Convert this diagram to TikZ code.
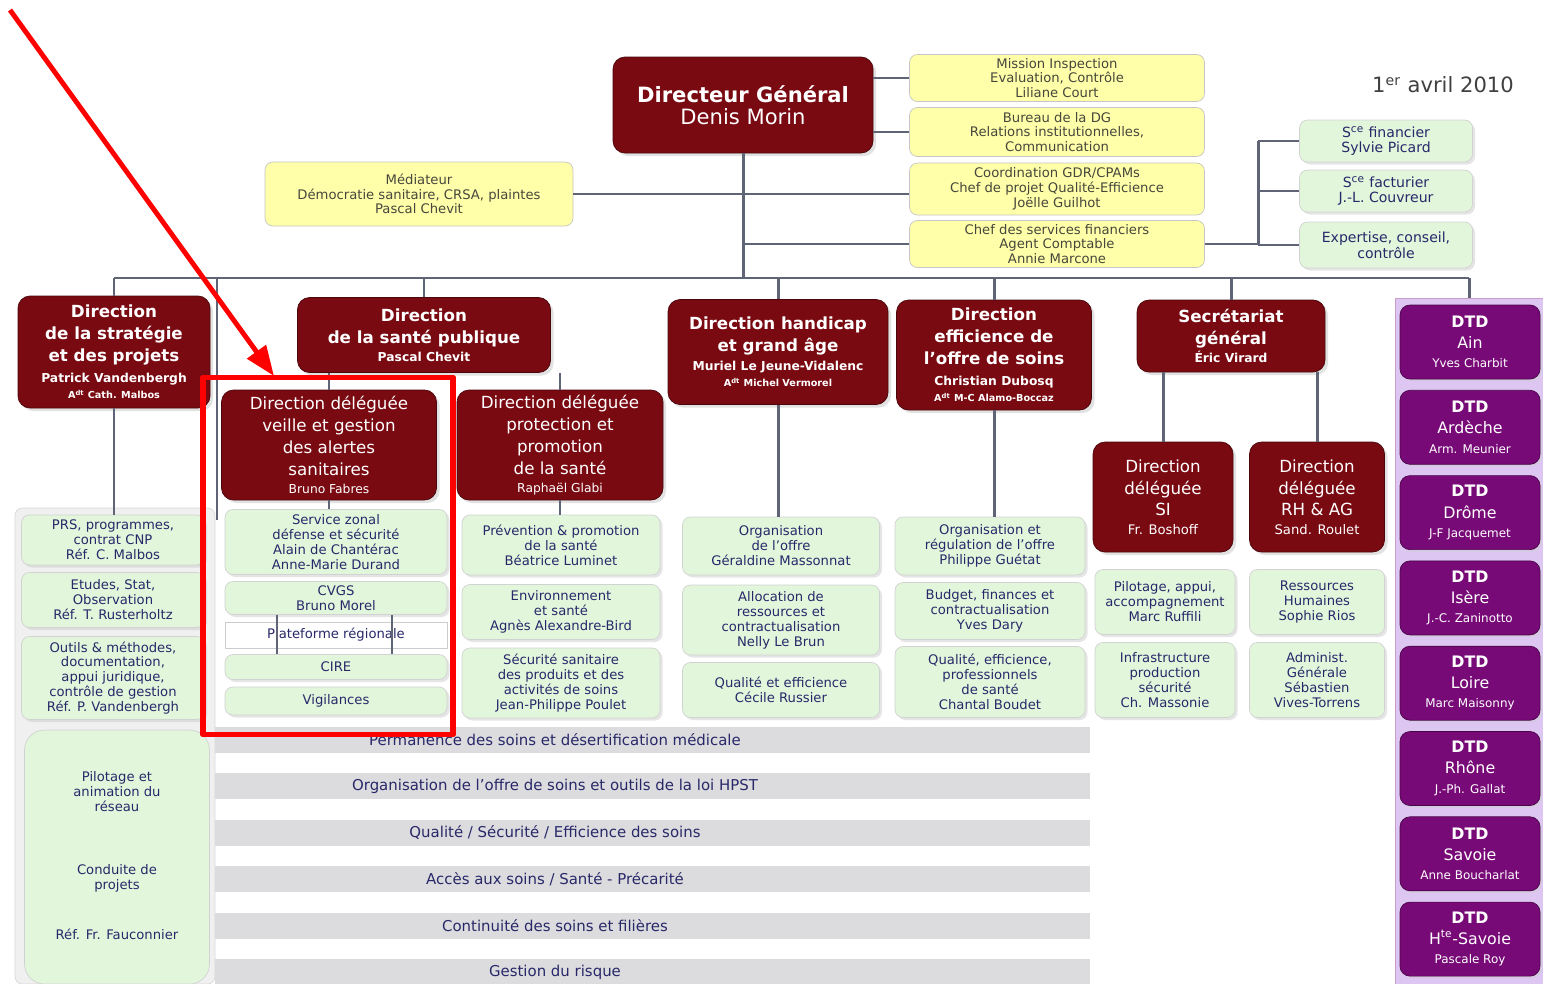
\documentclass[tikz,border=0pt]{standalone}
\usepackage{fontspec}
\setmainfont{DejaVu Sans}
\usetikzlibrary{arrows.meta,shadows}

\definecolor{dirred}{RGB}{122,10,18}
\definecolor{paleyellow}{RGB}{255,255,170}
\definecolor{yellowtext}{RGB}{70,70,60}
\definecolor{palegreen}{RGB}{226,246,220}
\definecolor{navytext}{RGB}{40,40,105}
\definecolor{linegray}{RGB}{95,100,118}
\definecolor{dtdpurple}{RGB}{120,10,120}
\definecolor{dtdback}{RGB}{222,198,242}
\definecolor{bargray}{RGB}{220,220,222}
\newcommand{\setfs}[2]{\fontsize{#1}{#2}\selectfont}

\begin{document}
\begin{tikzpicture}[
        x = 0.2mm, y = -0.2mm,
        line join=round,
        sz/.style 2 args = {minimum width=#1*0.2mm, minimum height=#2*0.2mm},
        conn/.style = {line width=1.7pt, draw=linegray},
        dirstyle/.style = {fill=dirred, draw=dirred!60!black, rounded corners=2.4mm, text=white, align=center, inner sep=1pt, font=\setfs{9.5}{12.5},
            drop shadow={shadow xshift=0.6mm, shadow yshift=-0.6mm, fill=gray!45}},
        boldhead/.style = {font=\setfs{9.5}{12.5}\bfseries},
        yellowstyle/.style = {fill=paleyellow, draw=gray!45, rounded corners=1.6mm, text=yellowtext, align=center, inner sep=1pt, font=\setfs{7.5}{8.4}},
        greenstyle/.style = {fill=palegreen, draw=gray!35, rounded corners=1.6mm, text=navytext, align=center, inner sep=1pt, font=\setfs{7.5}{8.5},
            drop shadow={shadow xshift=0.5mm, shadow yshift=-0.5mm, fill=gray!40}},
        platstyle/.style = {fill=white, draw=gray!40, text=navytext, font=\setfs{7.5}{8.5}},
        dtdstyle/.style = {fill=dtdpurple, draw=dtdpurple!60!black, rounded corners=2mm, text=white, align=center, inner sep=1pt,
            drop shadow={shadow xshift=0.4mm, shadow yshift=-0.4mm, fill=gray!40}},
        bartext/.style = {text=navytext, font=\setfs{8.5}{10}},
        sidetext/.style = {text=navytext, align=center, font=\setfs{7.5}{8.5}}
    ]

    \useasboundingbox[fill=white] (0,0) rectangle (1543,984);

    % backgrounds
    \node[fill=gray!12, draw=gray!30, rounded corners=1.5mm, sz={200}{476}] (panel) at (115,746) {};
    \node[fill=dtdback, draw=dtdpurple!40, sz={148}{686}] (dtdpanel) at (1469,641) {};
    \foreach \txt [count=\i from 0] in {Permanence des soins et désertification médicale,
        Organisation de l'offre de soins et outils de la loi HPST,
        Qualité / Sécurité / Efficience des soins,
        Accès aux soins / Santé - Précarité,
        Continuité des soins et filières,
        Gestion du risque}
    {
        \fill[bargray] (215,727+\i*46.4) rectangle (1090,753+\i*46.4);
        \node[bartext] (bar\i) at (555,740+\i*46.4) {\txt};
    }

    % top
    \node[dirstyle, sz={260}{96}] (dg) at (743,105) {{\bfseries\setfs{12}{16}Directeur Général}\\\setfs{12}{16}Denis Morin};
    \node[yellowstyle, sz={295}{47}] (y1) at (1057,78) {Mission Inspection\\Evaluation, Contrôle\\Liliane Court};
    \node[yellowstyle, sz={295}{49}] (y2) at (1057,132) {Bureau de la DG\\Relations institutionnelles,\\Communication};
    \node[yellowstyle, sz={295}{52}] (y3) at (1057,189) {Coordination GDR/CPAMs\\Chef de projet Qualité-Efficience\\Joëlle Guilhot};
    \node[yellowstyle, sz={295}{47}] (y4) at (1057,244) {Chef des services financiers\\Agent Comptable\\Annie Marcone};
    \node[yellowstyle, sz={308}{64}] (med) at (419,194) {Médiateur\\Démocratie sanitaire, CRSA, plaintes\\Pascal Chevit};
    \node[greenstyle, font=\setfs{8}{9}, sz={173}{42}] (gfin) at (1386,141) {S\textsuperscript{ce} financier\\Sylvie Picard};
    \node[greenstyle, font=\setfs{8}{9}, sz={173}{42}] (gfact) at (1386,191) {S\textsuperscript{ce} facturier\\J.-L. Couvreur};
    \node[greenstyle, font=\setfs{8}{9}, sz={173}{46}] (gexp) at (1386,245) {Expertise, conseil,\\contrôle};
    \node[text=black!75, font=\setfs{12}{14}] (date) at (1443,85) {1\textsuperscript{er} avril 2010};

    % directions
    \node[dirstyle, boldhead, sz={192}{112}] (strat) at (114,352) {Direction\\de la stratégie\\et des projets\\[-1pt]\setfs{7}{8}Patrick Vandenbergh\\[-3pt]\setfs{5.5}{6.5}A\textsuperscript{dt} Cath. Malbos};
    \node[dirstyle, boldhead, sz={253}{75}] (sp) at (424,335) {Direction\\de la santé publique\\[-2pt]\setfs{7}{8}Pascal Chevit};
    \node[dirstyle, boldhead, sz={220}{105}] (hand) at (778,352) {Direction handicap\\et grand âge\\[-2pt]\setfs{7}{8}Muriel Le Jeune-Vidalenc\\[-3pt]\setfs{5.5}{6.5}A\textsuperscript{dt} Michel Vermorel};
    \node[dirstyle, boldhead, sz={195}{110}] (eff) at (994,355) {Direction\\efficience de\\l'offre de soins\\[-1pt]\setfs{7}{8}Christian Dubosq\\[-3pt]\setfs{5.5}{6.5}A\textsuperscript{dt} M-C Alamo-Boccaz};
    \node[dirstyle, boldhead, sz={188}{72}] (sg) at (1231,336) {Secrétariat\\général\\[-2pt]\setfs{7}{8}Éric Virard};
    \node[dirstyle, sz={215}{110}] (ddv) at (329,445) {Direction déléguée\\veille et gestion\\des alertes\\sanitaires\\[-2pt]\setfs{7}{8}Bruno Fabres};
    \node[dirstyle, sz={206}{110}] (ddp) at (560,445) {Direction déléguée\\protection et\\promotion\\de la santé\\[-2pt]\setfs{7}{8}Raphaël Glabi};
    \node[dirstyle, sz={140}{110}] (ddsi) at (1163,497) {Direction\\déléguée\\SI\\[-2pt]\setfs{7.5}{8}Fr. Boshoff};
    \node[dirstyle, sz={135}{110}] (ddrh) at (1317,497) {Direction\\déléguée\\RH \& AG\\[-2pt]\setfs{7.5}{8}Sand. Roulet};

    % services
    \node[greenstyle, sz={183}{50}] (c1a) at (113,540) {PRS, programmes,\\contrat CNP\\Réf. C. Malbos};
    \node[greenstyle, sz={183}{55}] (c1b) at (113,600) {Etudes, Stat,\\Observation\\Réf. T. Rusterholtz};
    \node[greenstyle, sz={183}{83}] (c1c) at (113,678) {Outils \& méthodes,\\documentation,\\appui juridique,\\contrôle de gestion\\Réf. P. Vandenbergh};

    \node[greenstyle, sz={222}{65}] (c2a) at (336,542) {Service zonal\\défense et sécurité\\Alain de Chantérac\\Anne-Marie Durand};
    \node[greenstyle, sz={222}{33}] (c2b) at (336,598) {CVGS\\Bruno Morel};
    \node[platstyle, sz={222}{26}] (plat) at (336,635) {Plateforme régionale};
    \node[greenstyle, sz={222}{25}] (c2c) at (336,667) {CIRE};
    \node[greenstyle, sz={222}{28}] (c2d) at (336,701) {Vigilances};

    \node[greenstyle, sz={198}{60}] (c3a) at (561,545) {Prévention \& promotion\\de la santé\\Béatrice Luminet};
    \node[greenstyle, sz={198}{55}] (c3b) at (561,612) {Environnement\\et santé\\Agnès Alexandre-Bird};
    \node[greenstyle, sz={198}{70}] (c3c) at (561,683) {Sécurité sanitaire\\des produits et des\\activités de soins\\Jean-Philippe Poulet};

    \node[greenstyle, sz={197}{58}] (c4a) at (781,546) {Organisation\\de l'offre\\Géraldine Massonnat};
    \node[greenstyle, sz={197}{70}] (c4b) at (781,620) {Allocation de\\ressources et\\contractualisation\\Nelly Le Brun};
    \node[greenstyle, sz={197}{55}] (c4c) at (781,690) {Qualité et efficience\\Cécile Russier};

    \node[greenstyle, sz={190}{58}] (c5a) at (990,546) {Organisation et\\régulation de l'offre\\Philippe Guétat};
    \node[greenstyle, sz={190}{57}] (c5b) at (990,611) {Budget, finances et\\contractualisation\\Yves Dary};
    \node[greenstyle, sz={190}{71}] (c5c) at (990,682) {Qualité, efficience,\\professionnels\\de santé\\Chantal Boudet};

    \node[greenstyle, sz={140}{65}] (c6a) at (1165,602) {Pilotage, appui,\\accompagnement\\Marc Ruffili};
    \node[greenstyle, sz={140}{75}] (c6b) at (1165,680) {Infrastructure\\production\\sécurité\\Ch. Massonie};
    \node[greenstyle, sz={135}{65}] (c7a) at (1317,602) {Ressources\\Humaines\\Sophie Rios};
    \node[greenstyle, sz={135}{75}] (c7b) at (1317,680) {Administ.\\Générale\\Sébastien\\Vives-Torrens};

    % network side box
    \node[fill=palegreen, draw=gray!35, rounded corners=4mm, sz={185}{254}] (net) at (117,857) {};
    \node[sidetext] (net1) at (117,792) {Pilotage et\\animation du\\réseau};
    \node[sidetext] (net2) at (117,878) {Conduite de\\projets};
    \node[sidetext] (net3) at (117,934) {Réf. Fr. Fauconnier};

    % DTD
    \foreach \dep/\who [count=\i from 0] in {Ain/Yves Charbit, Ardèche/Arm. Meunier, Drôme/J-F Jacquemet,
        Isère/J.-C. Zaninotto, Loire/Marc Maisonny, Rhône/J.-Ph. Gallat,
        Savoie/Anne Boucharlat, {H\textsuperscript{te}-Savoie}/Pascale Roy}
    {
        \node[dtdstyle, sz={140}{74}] (dtd\i) at (1470,342+\i*85.3)
            {\setfs{9}{11}\bfseries DTD\\\setfs{9}{11}\dep\\[-1pt]\setfs{6.8}{8}\who};
    }

    % connectors
    \coordinate (busL) at (114,278);
    \coordinate (busR) at (1469,278);
    \coordinate (vx) at (217,520);
    \coordinate (brk) at (1258,245);

    \draw[conn] (busL) -- (busR);
    \draw[conn] (dg.south) -- (dg.south |- busL);
    \foreach \n in {strat, sp, hand, eff, sg, dtdpanel}
        \draw[conn] (\n.north) -- (\n.north |- busL);
    \draw[conn] (vx |- busL) -- (vx);

    \draw[conn] (dg.east |- y1.west) -- (y1.west);
    \draw[conn] (dg.east |- y2.west) -- (y2.west);
    \draw[conn] (med.east) -- (med.east -| y3.west);
    \draw[conn] (dg.south |- y4.west) -- (y4.west);
    \draw[conn] (y4.east) -- (y4.east -| brk);
    \draw[conn] (brk |- gfin.west) -- (brk |- gexp.west);
    \foreach \n in {gfin, gfact, gexp}
        \draw[conn] (brk |- \n.west) -- (\n.west);

    \draw[conn] (strat.south) -- (strat.south |- c1a.north);
    \draw[conn] (ddv.north |- sp.south) -- (ddv.north);
    \draw[conn] (ddp.north |- sp.south) -- (ddp.north);
    \draw[conn] (ddv.south) -- (ddv.south |- c2a.north);
    \draw[conn] (ddp.south) -- (ddp.south |- c3a.north);
    \draw[conn] (hand.south) -- (hand.south |- c4a.north);
    \draw[conn] (eff.south) -- (eff.south |- c5a.north);
    \draw[conn] (ddsi.north |- sg.south) -- (ddsi.north);
    \draw[conn] (ddrh.north |- sg.south) -- (ddrh.north);
    \foreach \dx in {-59,56}
        \draw[conn, line width=1.2pt] ([xshift=\dx*0.2mm]c2b.south) -- ([xshift=\dx*0.2mm]c2c.north);

    % highlight
    \node[draw=red, line width=3.4pt, sz={250}{357}] (hl) at (328,556) {};
    \coordinate (tail) at (10,10);
    \coordinate (tip) at (274,376);
    \draw[red, line width=2.8pt, -{Triangle[length=6mm, width=4.5mm]}] (tail) -- (tip);
\end{tikzpicture}
\end{document}
